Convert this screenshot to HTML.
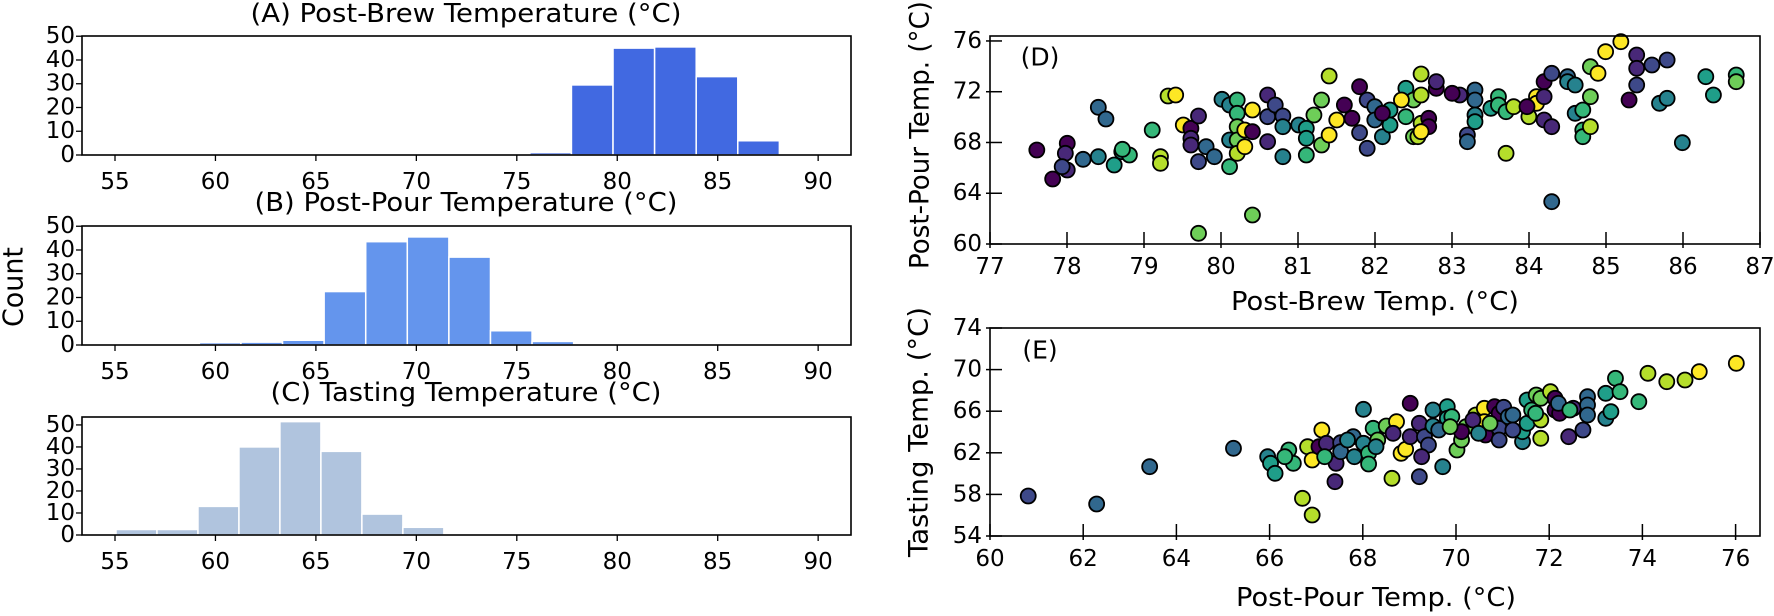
<!DOCTYPE html>
<html><head><meta charset="utf-8"><style>
html,body{margin:0;padding:0;background:#fff;}
svg{display:block;font-family:"DejaVu Sans","Liberation Sans",sans-serif;}
</style></head><body>
<svg id="s" width="1774" height="616" xmlns="http://www.w3.org/2000/svg">
<rect width="1774" height="616" fill="#fff"/>
<g id="g"></g>
</svg>
<script>
const NS="http://www.w3.org/2000/svg";
const G=document.getElementById('g');
function el(t,a,txt){const e=document.createElementNS(NS,t);for(const k in a)e.setAttribute(k,a[k]);if(txt!==undefined)e.textContent=txt;G.appendChild(e);return e;}
function text(x,y,s,size,anchor,extra){const a=Object.assign({x:x,y:y,'font-size':size,'text-anchor':anchor||'middle','dominant-baseline':'central',fill:'#000'},extra||{});return el('text',a,s);}
function ltext(x,y,s,size,len,extra){return text(x,y,s,size,'middle',Object.assign({textLength:len,lengthAdjust:'spacingAndGlyphs'},extra||{}));}
const L=82,R=851;
const HX=v=>115+(v-55)*20.09;
function hist(top,bot,ymax,color,start,w,heights,title,titleY,tickY,tlen){
  const Y=c=>bot-c*(bot-top)/ymax;
  heights.forEach((h,i)=>{const x0=HX(start+i*w),x1=HX(start+(i+1)*w);
    el('rect',{x:x0,y:Y(h),width:x1-x0,height:bot-Y(h),fill:color,stroke:'#fff','stroke-width':1.5});});
  el('rect',{x:L,y:top,width:R-L,height:bot-top,fill:'none',stroke:'#000','stroke-width':1.6});
  for(let v=55;v<=90;v+=5){const x=HX(v);el('line',{x1:x,y1:bot,x2:x,y2:bot+6,stroke:'#000','stroke-width':1.3});text(x,tickY,String(v),23);}
  for(let c=0;c<=50;c+=10){const y=Y(c);el('line',{x1:L,y1:y,x2:L-6,y2:y,stroke:'#000','stroke-width':1.3});text(L-7,y,String(c),23,'end');}
  ltext(466,titleY,title,26,tlen);
}
hist(36,155,50.1,'#4169e1',75.65,2.07,[1,29.5,45,45.5,33,6],'(A) Post-Brew Temperature (°C)',14,182,431);
hist(226,345,50.1,'#6495ed',59.2,2.07,[1,1.2,2,22.5,43.5,45.5,37,6,1.5],'(B) Post-Pour Temperature (°C)',203,372,423);
hist(417,535,53.6,'#b0c4de',55.05,2.04,[2.5,2.5,13,40,51.5,38,9.5,3.5],'(C) Tasting Temperature (°C)',393,562,391);
ltext(13,287,'Count',28,80,{transform:'rotate(-90 13 287)'});
const vir=['#440154','#482878','#3e4989','#31688e','#26828e','#1f9e89','#35b779','#6ece58','#b5de2b','#fde725'];
function col(i){return vir[(i*7+3*(i%3)+Math.floor(i/5))%10];}
function axes(top,bot,xt,X,yt,Y,lab,labY){
  el('rect',{x:990,y:top,width:770,height:bot-top,fill:'none',stroke:'#000','stroke-width':1.6});
  xt.forEach(v=>{const x=X(v);el('line',{x1:x,y1:bot-12,x2:x,y2:bot+4,stroke:'#000','stroke-width':1.5});text(x,bot+23,String(v),23);});
  yt.forEach(v=>{const y=Y(v);el('line',{x1:990-4,y1:y,x2:1002,y2:y,stroke:'#000','stroke-width':1.5});text(982,y,String(v),23,'end');});
  text(1040,labY,lab,25);
}
const DX=v=>990+(v-77)*77, DY=v=>244-(v-60)*12.69;
const dpts=[[405,450],[430,537],[453,430],[453,510],[450,460],[445,500],[478,478],[502,322],[514,357],[502,470],[527,495],[539,455],[551,465],[540,448],[587,390],[600,470],[600,490],[612,288],[624,285],[636,375],[648,385],[648,415],[648,435],[660,348],[660,485],[672,440],[685,470],[697,298],[709,315],[709,420],[709,500],[721,300],[721,340],[721,380],[721,420],[721,460],[733,390],[733,440],[745,330],[745,395],[769,285],[769,425],[769,350],[781,315],[793,348],[793,380],[793,470],[818,375],[830,385],[830,415],[830,465],[842,345],[854,300],[854,435],[866,228],[866,405],[878,360],[890,315],[902,355],[914,260],[914,398],[926,445],[926,300],[938,320],[938,360],[950,410],[962,330],[962,375],[987,265],[987,350],[999,300],[999,410],[1011,222],[1011,285],[1011,370],[1023,355],[1023,380],[1035,265],[1035,245],[1072,285],[1084,405],[1084,425],[1096,270],[1096,300],[1096,345],[1096,365],[1121,325],[1133,290],[1133,315],[1145,335],[1145,460],[1157,320],[1181,350],[1193,290],[1193,310],[1205,245],[1205,290],[1205,360],[1217,380],[1217,220],[1217,605],[1242,230],[1242,245],[1254,255],[1254,340],[1266,330],[1266,390],[1266,410],[1278,200],[1278,290],[1278,380],[1290,220],[1302,155],[1326,125],[1339,300],[1351,165],[1351,205],[1351,255],[1375,195],[1399,180],[1387,310],[1399,295],[1423,428],[1460,230],[1472,285],[1508,225],[1508,245],[660,700],[745,645],[1006,410],[1011,395],[980,300],[950,340],[1060,280],[1178,320]];
dpts.forEach((p,i)=>el('circle',{cx:780+p[0]/1.577,cy:p[1]/3,r:7.5,fill:col(i),stroke:'#000','stroke-width':1.8}));
axes(36,244,[77,78,79,80,81,82,83,84,85,86,87],DX,[60,64,68,72,76],DY,'(D)',57);
ltext(1375,302,'Post-Brew Temp. (°C)',26,288);
ltext(920,135,'Post-Pour Temp. (°C)',27,268,{transform:'rotate(-90 920 135)'});
const EX=v=>990+(v-60)*46.6, EY=v=>536-(v-54)*10.4;
const epts=[[260,588],[380,612],[473,500],[620,445],[680,470],[685,490],[693,520],[717,450],[725,490],[710,470],[741,595],[758,645],[750,440],[758,480],[775,390],[770,440],[783,430],[798,545],[800,490],[808,428],[808,455],[830,410],[832,470],[848,328],[848,430],[857,460],[857,492],[865,385],[873,420],[888,378],[898,535],[906,365],[914,460],[922,448],[930,310],[930,410],[946,370],[946,530],[955,410],[962,435],[970,330],[970,378],[987,500],[995,320],[995,355],[1003,350],[1012,450],[1020,420],[1028,380],[1045,345],[1060,325],[1060,365],[1062,405],[1078,320],[1086,340],[1086,385],[1094,322],[1086,420],[1102,350],[1110,345],[1127,425],[1127,395],[1135,300],[1135,370],[1143,330],[1151,285],[1159,295],[1159,360],[1159,415],[1176,275],[1184,295],[1184,330],[1192,340],[1208,410],[1216,325],[1233,390],[1241,290],[1241,315],[1241,345],[1273,355],[1273,280],[1282,335],[1290,235],[1298,275],[1331,305],[1347,220],[1380,245],[1412,240],[1437,215],[1502,190],[1020,395],[1040,360],[950,470],[900,400],[1110,390],[1190,310],[980,390],[870,440],[820,420],[1050,400],[1150,340],[1210,330],[780,470],[1000,380],[1070,370]];
epts.forEach((p,i)=>el('circle',{cx:880+p[0]/1.754,cy:300+p[1]/3,r:7.5,fill:col(i+5),stroke:'#000','stroke-width':1.8}));
axes(328,536,[60,62,64,66,68,70,72,74,76],EX,[54,58,62,66,70,74],EY,'(E)',350);
ltext(1376,598,'Post-Pour Temp. (°C)',26,280);
ltext(919,432,'Tasting Temp. (°C)',27,250,{transform:'rotate(-90 919 432)'});
</script>
</body></html>
